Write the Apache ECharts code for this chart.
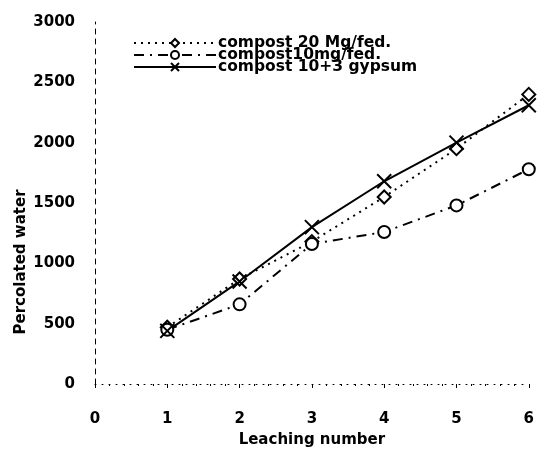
<!DOCTYPE html>
<html>
<head>
<meta charset="utf-8">
<script src="https://cdn.jsdelivr.net/npm/echarts@6/dist/echarts.min.js"></script>
<style>
  html, body { margin: 0; padding: 0; background: #fff; }
  #chart { width: 537px; height: 453px; }
</style>
</head>
<body>
<div id="chart"></div>
<script>
// leaching numbers
const leaching = [1, 2, 3, 4, 5, 6]
// percolated water per treatment
const compost20 = [470, 870, 1180, 1550, 1950, 2400]
const compost10 = [450, 660, 1160, 1260, 1480, 1780]
const compostGypsum = [440, 850, 1300, 1680, 2000, 2310]
const names = ['compost 20 Mg/fed.', 'compost10mg/fed.', 'compost 10+3 gypsum']

const font = 'DejaVu Sans'
const pair = (vals) => vals.map((v, i) => [leaching[i], v])
const xMark = 'path://M0,0L10,10M10,0L0,10'

const chart = echarts.init(document.getElementById('chart'))
chart.setOption({
  animation: false,
  backgroundColor: '#fff',
  textStyle: { fontFamily: font },
  grid: { left: 95, right: 5, top: 22, bottom: 68 },
  legend: {
    orient: 'vertical',
    left: 128,
    top: 30,
    itemGap: -4,
    itemWidth: 82,
    itemHeight: 10,
    textStyle: { fontFamily: font, fontWeight: 'bold', fontSize: 15.5, color: '#000', padding: [0, 0, 0, -3] },
    data: names
  },
  xAxis: {
    type: 'value',
    min: 0,
    max: 6,
    interval: 1,
    name: 'Leaching number',
    nameLocation: 'middle',
    nameGap: 49,
    nameMoveOverlap: false,
    nameTextStyle: { fontFamily: font, fontWeight: 'bold', fontSize: 15, color: '#000' },
    axisLine: { lineStyle: { color: '#000', width: 1, type: [1, 6] } },
    axisTick: { inside: false, length: 4, lineStyle: { color: '#000' } },
    minorTick: { show: true, splitNumber: 5, length: 2, lineStyle: { color: '#000' } },
    axisLabel: { fontFamily: font, fontWeight: 'bold', fontSize: 15, color: '#000', margin: 28 },
    splitLine: { show: false }
  },
  yAxis: {
    type: 'value',
    min: 0,
    max: 3000,
    interval: 500,
    name: 'Percolated water',
    nameLocation: 'middle',
    nameGap: 66,
    nameMoveOverlap: false,
    nameTextStyle: { fontFamily: font, fontWeight: 'bold', fontSize: 15, color: '#000', padding: [0, 118, 0, 0] },
    axisLine: { show: true, lineStyle: { color: '#000', width: 1, type: [5, 5] } },
    axisTick: { show: false },
    axisLabel: { fontFamily: font, fontWeight: 'bold', fontSize: 15, color: '#000', margin: 20, formatter: (v) => String(v) },
    splitLine: { show: false }
  },
  series: [
    {
      name: names[0],
      type: 'line',
      data: pair(compost20),
      symbol: 'diamond',
      symbolSize: 13,
      lineStyle: { color: '#000', width: 2, type: [2, 5] },
      itemStyle: { color: '#fff', borderColor: '#000', borderWidth: 2 }
    },
    {
      name: names[1],
      type: 'line',
      data: pair(compost10),
      symbol: 'circle',
      symbolSize: 12,
      lineStyle: { color: '#000', width: 2, type: [10, 6, 2, 6] },
      itemStyle: { color: '#fff', borderColor: '#000', borderWidth: 2 }
    },
    {
      name: names[2],
      type: 'line',
      data: pair(compostGypsum),
      symbol: xMark,
      symbolSize: 14,
      lineStyle: { color: '#000', width: 2 },
      itemStyle: { color: '#000', borderColor: '#000', borderWidth: 2 }
    }
  ]
})
</script>
</body>
</html>
